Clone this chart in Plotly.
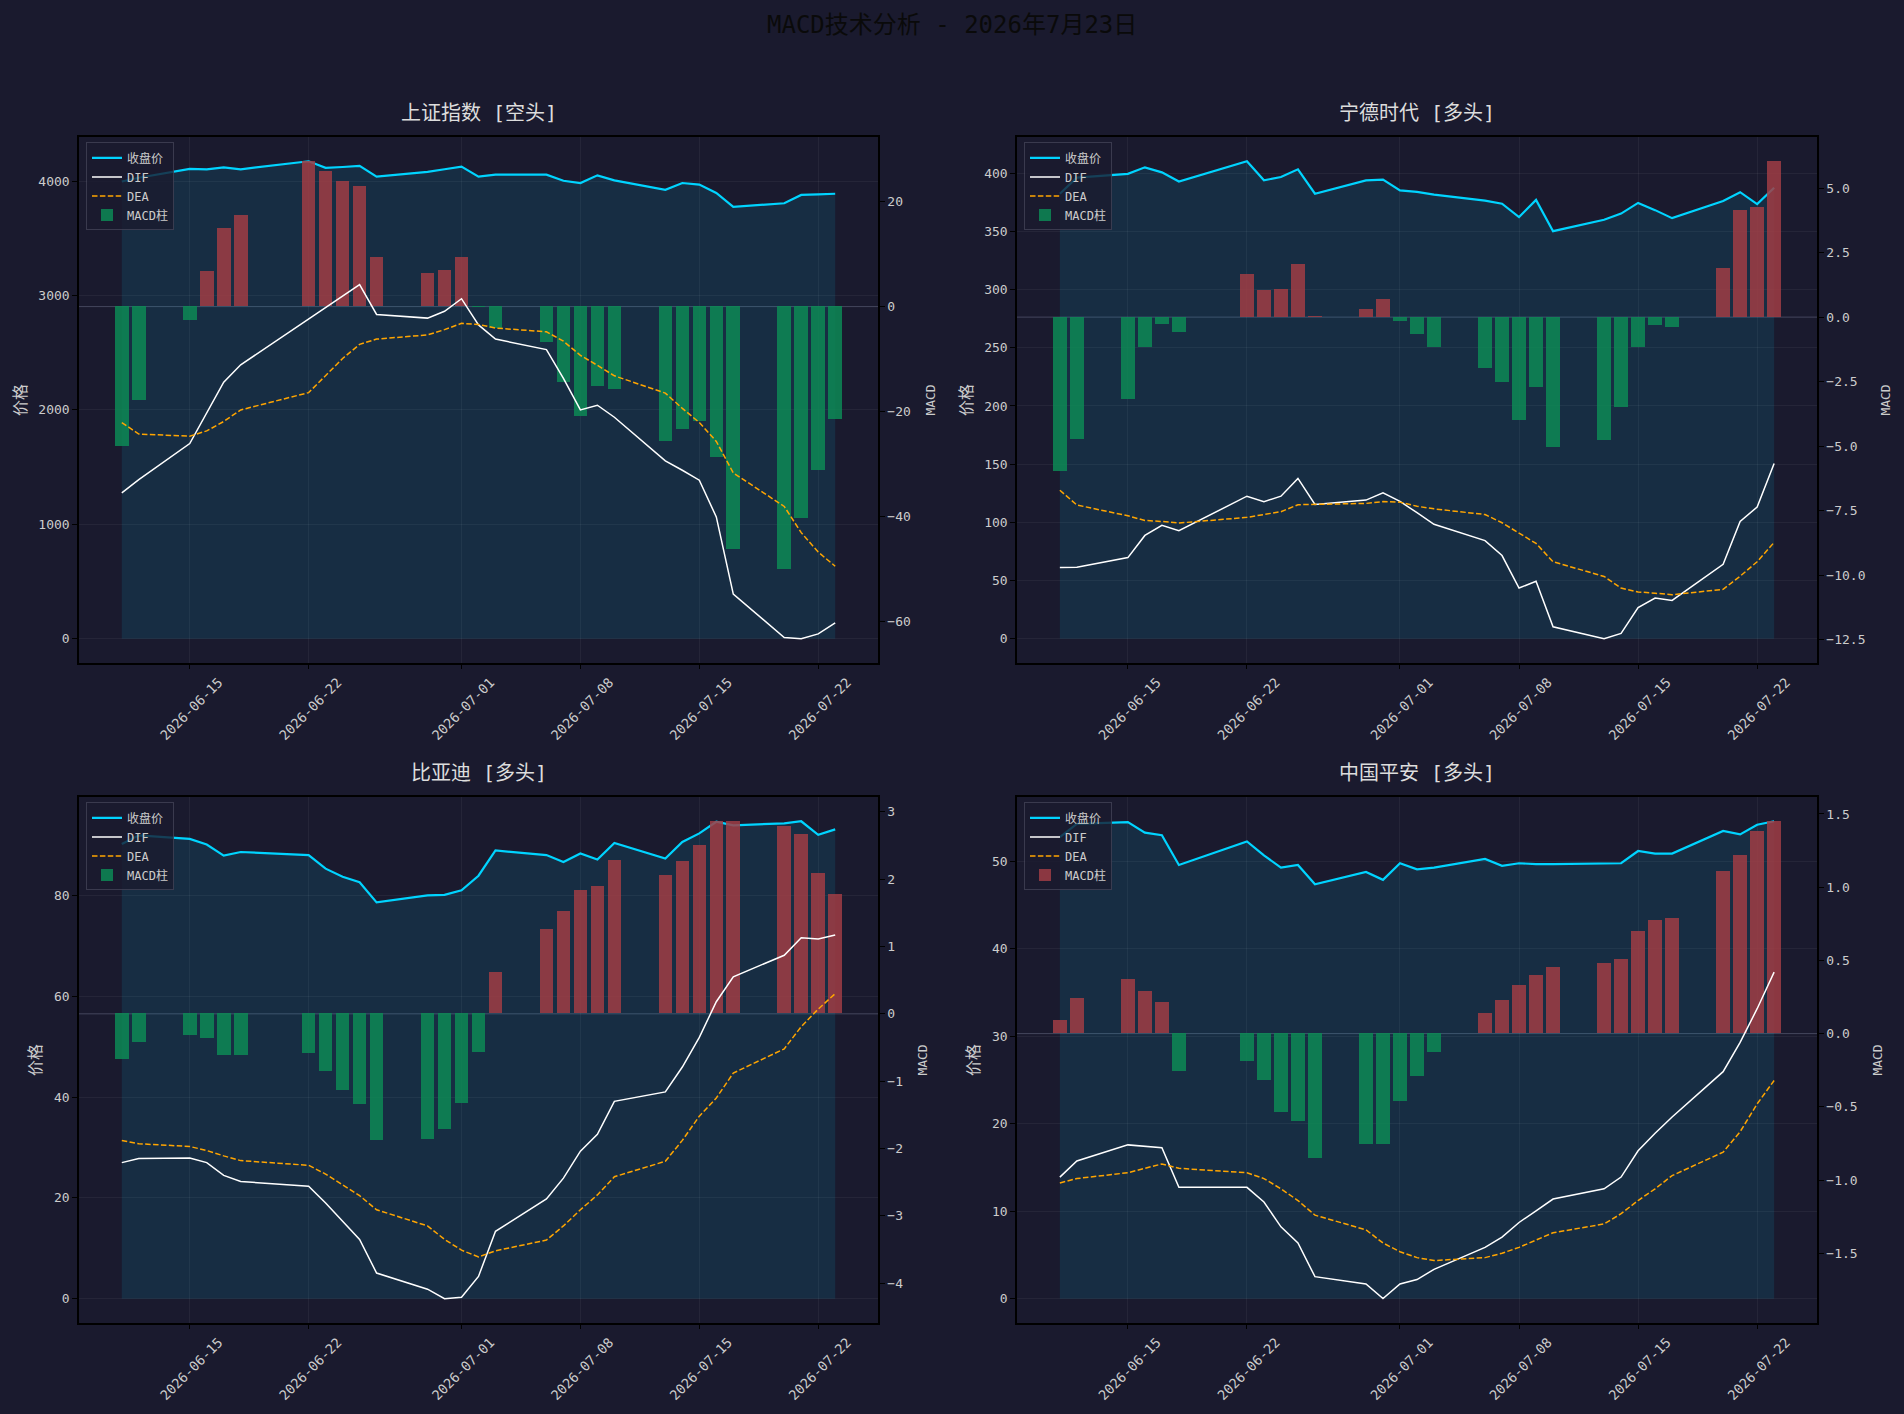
"""MACD technical analysis dashboard: 2x2 panels of price + MACD for four stocks."""
from __future__ import annotations

from datetime import datetime, timedelta
from typing import List

import plotly.graph_objects as go

DATES = [
    "2026-06-11", "2026-06-12", "2026-06-15", "2026-06-16", "2026-06-17",
    "2026-06-18", "2026-06-22", "2026-06-23", "2026-06-24", "2026-06-25",
    "2026-06-26", "2026-06-29", "2026-06-30", "2026-07-01", "2026-07-02",
    "2026-07-03", "2026-07-06", "2026-07-07", "2026-07-08", "2026-07-09",
    "2026-07-10", "2026-07-13", "2026-07-14", "2026-07-15", "2026-07-16",
    "2026-07-17", "2026-07-20", "2026-07-21", "2026-07-22", "2026-07-23",
]
DATE_TICKS = ["2026-06-15", "2026-06-22", "2026-07-01", "2026-07-08", "2026-07-15", "2026-07-22"]

NAMES = ["上证指数", "宁德时代", "比亚迪", "中国平安"]
TRENDS = ["空头", "多头", "多头", "多头"]
TITLE = "MACD技术分析 - 2026年7月23日"

# 上证指数
SH_CLOSE = [3996, 4029, 4106, 4103, 4120, 4103, 4173, 4116, 4123, 4133,
            4039, 4080, 4103, 4126, 4039, 4056, 4056, 4003, 3983, 4050,
            4006, 3923, 3983, 3969, 3896, 3775, 3806, 3879, 3883, 3889]
SH_DIF = [-35.5, -33.0, -26.1, -20.2, -14.4, -11.1, -2.4, -0.2, 2.0, 4.2,
          -1.5, -2.2, -0.9, 1.5, -3.5, -6.2, -8.2, -13.7, -19.7, -18.8,
          -21.1, -29.4, -31.2, -33.1, -40.1, -54.8, -63.1, -63.3, -62.4, -60.3]
SH_DEA = [-22.1, -24.3, -24.7, -23.7, -21.9, -19.7, -16.4, -13.1, -9.9, -7.2,
          -6.2, -5.4, -4.4, -3.2, -3.4, -4.1, -4.8, -6.6, -9.3, -11.2,
          -13.2, -16.5, -19.4, -22.1, -25.7, -31.7, -38.1, -43.1, -46.8, -49.5]
SH_HIST = [-26.7, -17.9, -2.7, 6.8, 14.9, 17.4, 27.7, 25.8, 23.9, 22.9,
           9.4, 6.4, 6.9, 9.4, -0.2, -4.2, -6.9, -14.5, -21.0, -15.2,
           -15.8, -25.7, -23.5, -21.9, -28.8, -46.2, -50.1, -40.3, -31.2, -21.6]

# 宁德时代
CATL_CLOSE = [382.4, 396.2, 399.5, 405.1, 400.8, 392.9, 410.3, 393.9, 396.8, 403.4,
              382.4, 393.9, 394.5, 385.3, 384.0, 381.7, 376.5, 373.8, 362.4, 377.1,
              350.2, 360.0, 365.3, 374.5, 368.3, 361.4, 376.1, 383.7, 373.5, 387.6]
CATL_DIF = [-9.70, -9.69, -9.32, -8.46, -8.07, -8.28, -6.94, -7.15, -6.94, -6.25,
            -7.26, -7.09, -6.81, -7.14, -7.58, -8.03, -8.66, -9.24, -10.50, -10.24,
            -12.00, -12.46, -12.26, -11.26, -10.89, -10.98, -9.58, -7.92, -7.36, -5.67]
CATL_DEA = [-6.71, -7.28, -7.70, -7.88, -7.92, -7.98, -7.76, -7.66, -7.54, -7.27,
            -7.25, -7.22, -7.15, -7.17, -7.33, -7.43, -7.65, -7.97, -8.37, -8.77,
            -9.48, -10.05, -10.50, -10.65, -10.70, -10.76, -10.55, -10.04, -9.48, -8.73]
CATL_HIST = [-5.96, -4.72, -3.18, -1.19, -0.30, -0.58, 1.66, 1.04, 1.08, 2.05,
             0.01, 0.31, 0.70, -0.15, -0.68, -1.19, -2.00, -2.52, -4.02, -2.74,
             -5.03, -4.76, -3.50, -1.16, -0.34, -0.39, 1.90, 4.14, 4.26, 6.04]

# 比亚迪
BYD_CLOSE = [90.2, 91.9, 91.2, 90.1, 87.9, 88.6, 88.0, 85.3, 83.7, 82.6,
             78.6, 80.0, 80.1, 81.0, 83.9, 88.9, 88.0, 86.6, 88.3, 87.1,
             90.4, 87.3, 90.6, 92.3, 94.6, 93.9, 94.3, 94.7, 92.0, 93.1]
BYD_DIF = [-2.21, -2.15, -2.14, -2.21, -2.40, -2.49, -2.56, -2.81, -3.08, -3.35,
           -3.85, -4.09, -4.23, -4.21, -3.90, -3.23, -2.75, -2.44, -2.04, -1.79,
           -1.30, -1.16, -0.79, -0.35, 0.18, 0.55, 0.87, 1.13, 1.11, 1.17]
BYD_DEA = [-1.88, -1.93, -1.97, -2.03, -2.11, -2.18, -2.25, -2.38, -2.54, -2.70,
           -2.91, -3.15, -3.35, -3.51, -3.61, -3.52, -3.36, -3.15, -2.91, -2.69,
           -2.42, -2.19, -1.88, -1.52, -1.25, -0.88, -0.52, -0.19, 0.07, 0.30]
BYD_HIST = [-0.67, -0.43, -0.32, -0.36, -0.61, -0.61, -0.59, -0.86, -1.14, -1.35,
            -1.88, -1.87, -1.71, -1.33, -0.57, 0.61, 1.26, 1.52, 1.84, 1.89,
            2.28, 2.05, 2.26, 2.50, 2.86, 2.86, 2.79, 2.67, 2.09, 1.77]

# 中国平安
PA_CLOSE = [52.8, 54.3, 54.5, 53.3, 53.0, 49.6, 52.3, 50.7, 49.3, 49.6,
            47.4, 48.8, 47.9, 49.8, 49.1, 49.3, 50.3, 49.5, 49.8, 49.7,
            49.7, 49.8, 49.8, 51.2, 50.9, 50.9, 53.5, 53.1, 54.2, 54.6]
PA_DIF = [-0.98, -0.87, -0.76, -0.77, -0.78, -1.05, -1.05, -1.15, -1.32, -1.43,
          -1.66, -1.71, -1.81, -1.71, -1.68, -1.61, -1.46, -1.39, -1.29, -1.21,
          -1.13, -1.06, -0.98, -0.80, -0.68, -0.57, -0.26, -0.06, 0.17, 0.42]
PA_DEA = [-1.02, -0.99, -0.95, -0.92, -0.89, -0.92, -0.95, -0.99, -1.06, -1.14,
          -1.24, -1.34, -1.43, -1.49, -1.53, -1.55, -1.53, -1.50, -1.46, -1.41,
          -1.36, -1.30, -1.23, -1.14, -1.06, -0.97, -0.81, -0.67, -0.48, -0.32]
PA_HIST = [0.09, 0.24, 0.37, 0.29, 0.21, -0.26, -0.19, -0.32, -0.54, -0.60,
           -0.85, -0.76, -0.76, -0.46, -0.29, -0.13, 0.14, 0.23, 0.33, 0.40,
           0.45, 0.48, 0.51, 0.70, 0.77, 0.79, 1.11, 1.22, 1.38, 1.45]

PANELS = [
    (SH_CLOSE, SH_DIF, SH_DEA, SH_HIST),
    (CATL_CLOSE, CATL_DIF, CATL_DEA, CATL_HIST),
    (BYD_CLOSE, BYD_DIF, BYD_DEA, BYD_HIST),
    (PA_CLOSE, PA_DIF, PA_DEA, PA_HIST),
]

# styling
W, H = 1904, 1414
BG = "#1a1a2e"
FONT = "DejaVu Sans Mono, Noto Sans CJK SC, monospace"
TEXT = "#cccccc"
GRID = "rgba(255,255,255,0.05)"
CYAN = "#00d4ff"
ORANGE = "#ffa500"
RED = "rgba(160,61,68,0.85)"
GREEN = "rgba(13,137,85,0.85)"
X_DOM = [(79 / W, 878 / W), (1017 / W, 1817 / W)]
Y_DOM = [(1 - 662.5 / H, 1 - 137.4 / H), (1 - 1322.5 / H, 1 - 797.4 / H)]
PRICE_DTICK = [1000, 50, 20, 10]
MACD_DTICK = [20, 2.5, 1, 0.5]
MACD_FMT = ["d", ".1f", "d", ".1f"]
BAR_MS = 0.8 * 86400000


def _suffix(n: int) -> str:
    return "" if n == 1 else str(n)


def _pad_range(values: List[float], frac: float = 0.05) -> List[float]:
    lo, hi = min(values), max(values)
    pad = (hi - lo) * frac
    return [lo - pad, hi + pad]


def main() -> None:
    fig = go.Figure()
    first = datetime.fromisoformat(DATES[0])
    last = datetime.fromisoformat(DATES[-1])
    margin = timedelta(days=(last - first).days * 0.05 + 0.42)
    x_range = [(first - margin).isoformat(), (last + margin).isoformat()]

    ytick_font = dict(family=FONT, size=13, color=TEXT)
    xtick_font = dict(family=FONT, size=13.5, color=TEXT)
    annotations = []
    shapes = []

    for k, (close, dif, dea, hist) in enumerate(PANELS):
        row, col = divmod(k, 2)
        xn = k + 1
        py, my = 2 * k + 1, 2 * k + 2
        xref, pref, mref = "x" + _suffix(xn), "y" + _suffix(py), "y" + _suffix(my)
        legend = "legend" + _suffix(k + 1)

        fig.add_trace(go.Scatter(
            x=DATES, y=close, mode="lines", fill="tozeroy",
            fillcolor="rgba(0,212,255,0.1)", line=dict(width=0),
            showlegend=False, hoverinfo="skip", xaxis=xref, yaxis=pref,
        ))
        fig.add_trace(go.Scatter(
            x=DATES, y=close, mode="lines", name="收盘价",
            line=dict(color=CYAN, width=2.2), legend=legend, legendrank=1,
            xaxis=xref, yaxis=pref,
        ))
        fig.add_trace(go.Bar(
            x=DATES, y=hist, name="MACD柱", width=BAR_MS,
            marker=dict(color=[RED if v >= 0 else GREEN for v in hist], line=dict(width=0)),
            legend=legend, legendrank=4, xaxis=xref, yaxis=mref,
        ))
        fig.add_trace(go.Scatter(
            x=DATES, y=dif, mode="lines", name="DIF",
            line=dict(color="#ffffff", width=1.5), legend=legend, legendrank=2,
            xaxis=xref, yaxis=mref,
        ))
        fig.add_trace(go.Scatter(
            x=DATES, y=dea, mode="lines", name="DEA",
            line=dict(color=ORANGE, width=1.5, dash="5.5px,2.4px"), legend=legend,
            legendrank=3, xaxis=xref, yaxis=mref,
        ))

        xd, yd = X_DOM[col], Y_DOM[row]
        common = dict(
            showline=True, linecolor="#000000", linewidth=1.5,
            ticks="outside", ticklen=5, tickcolor="#000000", tickwidth=1.2,
            zeroline=False,
        )
        fig.layout["xaxis" + _suffix(xn)] = dict(
            domain=list(xd), anchor=pref, type="date", range=x_range,
            tickvals=DATE_TICKS, tickformat="%Y-%m-%d", tickangle=-45,
            ticklabelshift=29, tickfont=xtick_font,
            showgrid=True, gridcolor=GRID, mirror=True, **common,
        )
        fig.layout["yaxis" + _suffix(py)] = dict(
            domain=list(yd), anchor=xref, range=[-0.05 * max(close), 1.05 * max(close)],
            dtick=PRICE_DTICK[k], showgrid=True, gridcolor=GRID, mirror=True,
            tickfont=ytick_font,
            title=dict(text="价格", font=dict(family=FONT, size=16, color=TEXT), standoff=8),
            **common,
        )
        fig.layout["yaxis" + _suffix(my)] = dict(
            overlaying=pref, side="right", anchor=xref,
            range=_pad_range(hist + dif + dea), dtick=MACD_DTICK[k],
            tickformat=MACD_FMT[k], showgrid=False, tickfont=ytick_font,
            title=dict(text="MACD", font=dict(family=FONT, size=13, color=TEXT), standoff=16),
            **common,
        )
        fig.layout[legend] = dict(
            x=xd[0] + 7 / W, y=yd[1] - 5 / H, xanchor="left", yanchor="top",
            bgcolor="rgba(26,26,46,0.8)", bordercolor="rgba(90,90,110,0.5)",
            borderwidth=1, font=dict(family=FONT, size=12, color=TEXT),
            itemwidth=30, tracegroupgap=0,
        )
        shapes.append(dict(
            type="line", xref=xref + " domain", yref=mref, x0=0, x1=1, y0=0, y1=0,
            line=dict(color="rgba(120,125,150,0.45)", width=1), layer="below",
        ))
        annotations.append(dict(
            text=f"{NAMES[k]} [{TRENDS[k]}]", xref="paper", yref="paper",
            x=(xd[0] + xd[1]) / 2, y=yd[1] + 24 / H, xanchor="center", yanchor="middle",
            showarrow=False, font=dict(family=FONT, size=20, color="#dddddd"),
        ))

    annotations.append(dict(
        text=TITLE, xref="paper", yref="paper", x=0.5, y=1 - 25 / H,
        xanchor="center", yanchor="middle", showarrow=False,
        font=dict(family=FONT, size=24, color="#0a0a0a"),
    ))

    fig.update_layout(
        width=W, height=H, margin=dict(l=0, r=0, t=0, b=0),
        paper_bgcolor=BG, plot_bgcolor=BG, bargap=0,
        annotations=annotations, shapes=shapes,
        font=dict(family=FONT, color=TEXT),
    )
    fig.write_html(
        "out.html",
        config={"displayModeBar": False},
        post_script="document.body.style.margin='0';document.body.style.background='#1a1a2e';",
    )


if __name__ == "__main__":
    main()
